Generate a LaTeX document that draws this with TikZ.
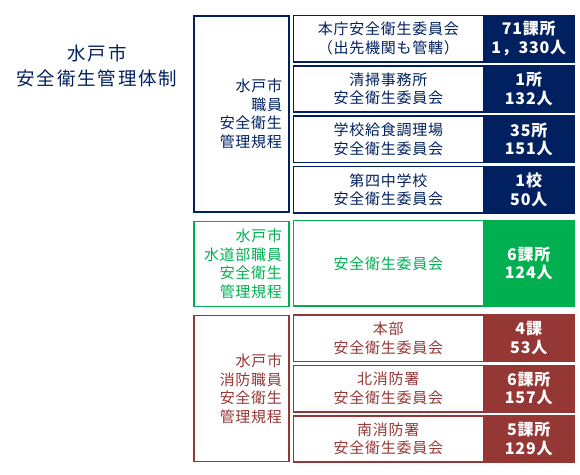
\documentclass[tikz,border=0pt]{standalone}
\usepackage{fontspec}
\setmainfont[LetterSpace=5]{Noto Sans CJK JP}
\newfontfamily\titlefont[LetterSpace=10]{Noto Sans CJK JP}
\usetikzlibrary{positioning, fit}
\definecolor{mitonavy}{HTML}{002060}
\definecolor{mitogreen}{HTML}{00B050}
\definecolor{mitored}{HTML}{953735}

\begin{document}
\begin{tikzpicture}[x=1pt, y=-1pt, inner sep=0pt,
      every node/.style={font=\fontsize{15}{18.5}\selectfont},
      grp/.style={draw=#1, text=#1, line width=1.3pt, minimum width=95pt,
        text width=81pt, inner xsep=7pt, align=right},
      unit/.style={text=#1, minimum width=189pt, text width=189pt,
        minimum height=46pt, align=center},
      count/.style={fill=#1, text=white, font=\bfseries\fontsize{16}{18.5}\selectfont,
        minimum width=91pt, text width=91pt, minimum height=46pt, align=center},
      frame/.style={draw=#1, line width=1.6pt, inner sep=0pt}]
      \useasboundingbox (0,0) rectangle (580,474);
      \node[text=mitonavy, align=center, font=\titlefont\fontsize{18.5}{24.5}\selectfont]
        (title) at (97,66) {水戸市\\安全衛生管理体制};
      % 職員
      \node[grp=mitonavy, minimum height=196pt] (shokuin) at (241.5,114)
        {水戸市\\職員\\安全衛生\\管理規程};
      \node[unit=mitonavy, anchor=north west] (hq) at ([xshift=4pt]shokuin.north east)
        {本庁安全衛生委員会\\（出先機関も管轄）};
      \node[count=mitonavy, right=0pt of hq] (hqN) {71課所\\1，330人};
      \node[unit=mitonavy, below=4pt of hq] (seiso) {清掃事務所\\安全衛生委員会};
      \node[count=mitonavy, right=0pt of seiso] (seisoN) {1所\\132人};
      \node[unit=mitonavy, below=4pt of seiso] (kyushoku) {学校給食調理場\\安全衛生委員会};
      \node[count=mitonavy, right=0pt of kyushoku] (kyushokuN) {35所\\151人};
      \node[unit=mitonavy, below=4pt of kyushoku] (daiyon) {第四中学校\\安全衛生委員会};
      \node[count=mitonavy, right=0pt of daiyon] (daiyonN) {1校\\50人};
      \foreach \r in {hq, seiso, kyushoku, daiyon}
        \node[frame=mitonavy, fit=(\r) (\r N)] {};
      % 水道部
      \node[grp=mitogreen, minimum height=85pt, below=8pt of shokuin] (suido)
        {水戸市\\水道部職員\\安全衛生\\管理規程};
      \node[unit=mitogreen, minimum height=85pt, anchor=north west] (suidoI)
        at ([xshift=4pt]suido.north east) {安全衛生委員会};
      \node[count=mitogreen, minimum height=85pt, right=0pt of suidoI] (suidoIN) {6課所\\124人};
      \node[frame=mitogreen, fit=(suidoI) (suidoIN)] {};
      % 消防
      \node[grp=mitored, minimum height=146pt, below=8pt of suido] (shobo)
        {水戸市\\消防職員\\安全衛生\\管理規程};
      \node[unit=mitored, anchor=north west] (honbu) at ([xshift=4pt]shobo.north east)
        {本部\\安全衛生委員会};
      \node[count=mitored, right=0pt of honbu] (honbuN) {4課\\53人};
      \node[unit=mitored, below=4pt of honbu] (kita) {北消防署\\安全衛生委員会};
      \node[count=mitored, right=0pt of kita] (kitaN) {6課所\\157人};
      \node[unit=mitored, below=4pt of kita] (minami) {南消防署\\安全衛生委員会};
      \node[count=mitored, right=0pt of minami] (minamiN) {5課所\\129人};
      \foreach \r in {honbu, kita, minami}
        \node[frame=mitored, fit=(\r) (\r N)] {};
    \end{tikzpicture}
\end{document}
